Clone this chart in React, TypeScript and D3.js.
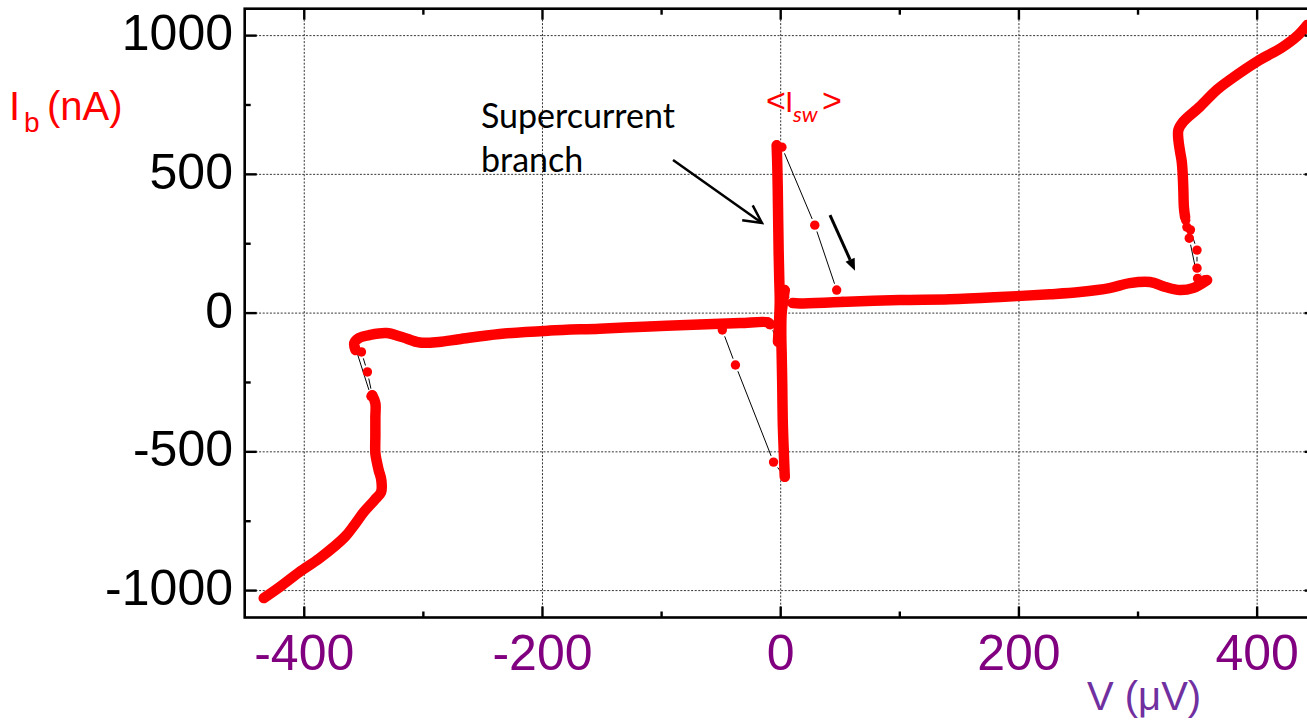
import React from 'react';
import * as d3 from 'd3';

// One point of the I–V sweep: [V in µV, I_b in nA]
type Pt = [number, number];

// Dense, continuously sampled branches of the I–V curve
const gapNegBranch: Pt[] = [
  [-434, -1027], [-420, -985], [-404, -933], [-387, -883], [-366, -807], [-358, -764],
  [-350, -717], [-341, -674], [-335.5, -645], [-335.3, -602], [-337.5, -566], [-339, -537],
  [-340.3, -505], [-340.3, -440], [-340.3, -375], [-340.3, -325], [-342.9, -296],
];
const subgapNegBranch: Pt[] = [
  [-357, -133], [-358, -108], [-354, -90], [-345, -79], [-331, -72], [-318, -86], [-303, -106],
  [-287, -104], [-270, -94], [-236, -75], [-194, -63], [-152, -56], [-110, -48], [-68, -41],
  [-34, -36], [-11, -33], [-9, -40],
];
const superUpBranch: Pt[] = [
  [-2.3, -103], [-1.5, -40], [-0.8, 40], [-1.2, 120], [-1.7, 216], [-2.1, 330],
  [-2.5, 455], [-2.9, 540], [-3.4, 605],
];
const superDownBranch: Pt[] = [
  [3.4, 83], [2, 40], [0.8, 0], [0.5, -80], [0.8, -144], [1.3, -260], [1.7, -386],
  [2.5, -490], [3.4, -590],
];
const subgapPosBranch: Pt[] = [
  [10, 36], [16, 35], [50, 40], [100, 47], [142, 50], [184, 58], [226, 68], [251, 76],
  [276, 90], [293, 108], [310, 112], [323, 94], [335, 83], [346, 90], [358, 119],
];
const gapPosBranch: Pt[] = [
  [339.5, 346], [338.5, 382], [338, 450], [337.5, 500], [336.7, 546], [335.3, 582],
  [333.9, 624], [333.9, 660], [338, 690], [352, 744], [366, 804], [377, 840], [402, 912],
  [420, 955], [434, 1000], [442, 1038],
];

// Sparse switching / retrapping transitions between branches
const leftJumpA: Pt[] = [[-342.9, -296], [-347, -212], [-352, -140]];
const leftJumpB: Pt[] = [[-344, -300], [-357, -125]];
const negRetrap: Pt[] = [[-9, -40], [-2.3, -103]];
const posSwitch: Pt[] = [[-3.4, 605], [1, 598], [28.6, 317], [47, 83], [52, 42]];
const posRetrap: Pt[] = [[10, 36], [3.4, 83]];
const negSwitch: Pt[] = [[3.4, -590], [-6, -537], [-38, -187], [-49, -61], [-52, -40]];
const rightJumpA: Pt[] = [[340, 335], [341, 310], [343, 270], [350, 125]];
const rightJumpB: Pt[] = [[344, 300], [349.5, 227], [349.5, 162], [356, 120]];

const branches = [gapNegBranch, subgapNegBranch, superUpBranch, superDownBranch, subgapPosBranch, gapPosBranch];
const jumps = [leftJumpA, leftJumpB, negRetrap, posSwitch, posRetrap, negSwitch, rightJumpA, rightJumpB];

// Axis ticks
const xTicksMajor = [-400, -200, 0, 200, 400];
const xTicksMinor = [-300, -100, 100, 300];
const yTicksMajor = [-1000, -500, 0, 500, 1000];
const yTicksMinor = [-750, -250, 250, 750];

// Annotation arrows in data units: [start, tip]
const branchArrow: Pt[] = [[-90.4, 551.5], [-15.7, 324.6]];
const sweepArrow: Pt[] = [[41.4, 353.4], [62.4, 152.7]];

const W = 1307;
const H = 722;
const x = d3.scaleLinear().domain([-450, 450]).range([244.7, 1316.7]);
const y = d3.scaleLinear().domain([-1097, 1097]).range([617.5, 8.7]);
const left = x(-450), right = x(450), top = y(1097), bottom = y(-1097);

const R = 4.7;
const RED = '#ff0000';
const TICK_FONT = '"Liberation Sans", Arial, sans-serif';
const NOTE_FONT = 'Lato, "Open Sans", sans-serif';

const band = d3
  .line<Pt>()
  .x((d) => x(d[0]))
  .y((d) => y(d[1]))
  .curve(d3.curveCatmullRom.alpha(0.5));

// Connecting segments stop short of each symbol, leaving a small gap
function gappedSegments(pts: Pt[], gap: number) {
  const out: number[][] = [];
  for (let i = 0; i < pts.length - 1; i++) {
    const x1 = x(pts[i][0]), y1 = y(pts[i][1]);
    const x2 = x(pts[i + 1][0]), y2 = y(pts[i + 1][1]);
    const dx = x2 - x1, dy = y2 - y1;
    const len = Math.hypot(dx, dy);
    if (len <= 2 * gap) continue;
    const ux = dx / len, uy = dy / len;
    out.push([x1 + ux * gap, y1 + uy * gap, x2 - ux * gap, y2 - uy * gap]);
  }
  return out;
}

function openHead(a: Pt, b: Pt, len: number, angleDeg: number) {
  const x1 = x(a[0]), y1 = y(a[1]), x2 = x(b[0]), y2 = y(b[1]);
  const ang = Math.atan2(y1 - y2, x1 - x2);
  const t = (angleDeg * Math.PI) / 180;
  const p1 = [x2 + len * Math.cos(ang + t), y2 + len * Math.sin(ang + t)];
  const p2 = [x2 + len * Math.cos(ang - t), y2 + len * Math.sin(ang - t)];
  return `M${p1[0]},${p1[1]}L${x2},${y2}L${p2[0]},${p2[1]}`;
}

function filledHead(a: Pt, b: Pt, len: number, half: number) {
  const x1 = x(a[0]), y1 = y(a[1]), x2 = x(b[0]), y2 = y(b[1]);
  const d = Math.hypot(x2 - x1, y2 - y1);
  const ux = (x2 - x1) / d, uy = (y2 - y1) / d;
  const bx = x2 - ux * len, by = y2 - uy * len;
  return {
    path: `M${x2},${y2}L${bx - uy * half},${by + ux * half}L${bx + uy * half},${by - ux * half}Z`,
    base: [bx, by],
  };
}

export default function App() {
  const head2 = filledHead(sweepArrow[0], sweepArrow[1], 12, 5);
  return (
    <svg
      width={W}
      height={H}
      style={{ position: 'absolute', left: 0, top: 0, background: '#fff' }}
    >
      {/* grid */}
      <g stroke="#333" strokeWidth={1} strokeDasharray="2,1.6">
        {xTicksMajor.map((t) => (
          <line key={'gx' + t} x1={x(t)} x2={x(t)} y1={top} y2={bottom} />
        ))}
        {yTicksMajor.map((t) => (
          <line key={'gy' + t} x1={left} x2={right} y1={y(t)} y2={y(t)} />
        ))}
      </g>

      {/* thin connecting lines of the sweep */}
      <g stroke="#000" strokeWidth={1}>
        {jumps.flatMap((j, ji) =>
          gappedSegments(j, R + 2).map((s, si) => (
            <line key={`j${ji}-${si}`} x1={s[0]} y1={s[1]} x2={s[2]} y2={s[3]} />
          ))
        )}
      </g>

      {/* dense branches */}
      <g fill="none" stroke={RED} strokeWidth={10.5} strokeLinecap="round" strokeLinejoin="round">
        {branches.map((b, i) => (
          <path key={'b' + i} d={band(b) || ''} />
        ))}
      </g>

      {/* data symbols */}
      <g fill={RED}>
        {[...branches, ...jumps].flatMap((b, i) =>
          b.map((p, k) => <circle key={`p${i}-${k}`} cx={x(p[0])} cy={y(p[1])} r={R} />)
        )}
      </g>

      {/* frame */}
      <g stroke="#000" strokeWidth={2.6} fill="none">
        <rect x={left} y={top} width={right - left} height={bottom - top} />
      </g>

      {/* ticks (inward, all four sides) */}
      <g stroke="#000" strokeWidth={2.4}>
        {xTicksMajor.map((t) => (
          <g key={'xt' + t}>
            <line x1={x(t)} x2={x(t)} y1={bottom} y2={bottom - 11} />
            <line x1={x(t)} x2={x(t)} y1={top} y2={top + 11} />
          </g>
        ))}
        {xTicksMinor.map((t) => (
          <g key={'xm' + t}>
            <line x1={x(t)} x2={x(t)} y1={bottom} y2={bottom - 6} />
            <line x1={x(t)} x2={x(t)} y1={top} y2={top + 6} />
          </g>
        ))}
        {yTicksMajor.map((t) => (
          <g key={'yt' + t}>
            <line x1={left} x2={left + 12} y1={y(t)} y2={y(t)} />
            <line x1={right} x2={right - 12} y1={y(t)} y2={y(t)} />
          </g>
        ))}
        {yTicksMinor.map((t) => (
          <g key={'ym' + t}>
            <line x1={left} x2={left + 6} y1={y(t)} y2={y(t)} />
            <line x1={right} x2={right - 6} y1={y(t)} y2={y(t)} />
          </g>
        ))}
      </g>

      {/* tick labels */}
      <g fontFamily={TICK_FONT} fontSize={50}>
        {yTicksMajor.map((t) => (
          <text key={'yl' + t} x={233} y={y(t) + 14.5} textAnchor="end" fill="#000">
            {t}
          </text>
        ))}
        {xTicksMajor.map((t) => (
          <text key={'xl' + t} x={x(t)} y={670} textAnchor="middle" fill="#800080">
            {t}
          </text>
        ))}
      </g>

      {/* axis titles */}
      <text x={1087} y={710} fontFamily={TICK_FONT} fontSize={40} fill="#7030a0">
        V (μV)
      </text>
      <text y={120} fontFamily={TICK_FONT} fontSize={40} fill={RED}>
        <tspan x={9}>I</tspan>
        <tspan x={24} dy={12} fontSize={28}>b</tspan>
        <tspan x={47} dy={-12}>(nA)</tspan>
      </text>

      {/* annotations */}
      <text fontFamily={NOTE_FONT} fontSize={34} fill="#000">
        <tspan x={481} y={128}>Supercurrent</tspan>
        <tspan x={481} y={172}>branch</tspan>
      </text>
      <text y={112} fontFamily={TICK_FONT} fontSize={30} fill={RED}>
        <tspan x={766} fontSize={34}>&lt;</tspan>
        <tspan x={785}>I</tspan>
        <tspan x={793} dy={10} fontSize={22} fontStyle="italic" fontFamily={NOTE_FONT}>sw</tspan>
        <tspan x={822} dy={-10} fontSize={34}>&gt;</tspan>
      </text>

      <g stroke="#000" fill="none" strokeWidth={2.5}>
        <line
          x1={x(branchArrow[0][0])}
          y1={y(branchArrow[0][1])}
          x2={x(branchArrow[1][0])}
          y2={y(branchArrow[1][1])}
        />
        <path d={openHead(branchArrow[0], branchArrow[1], 20, 27)} strokeLinejoin="miter" />
        <line
          x1={x(sweepArrow[0][0])}
          y1={y(sweepArrow[0][1])}
          x2={head2.base[0]}
          y2={head2.base[1]}
          strokeWidth={3}
        />
      </g>
      <path d={head2.path} fill="#000" />
    </svg>
  );
}
